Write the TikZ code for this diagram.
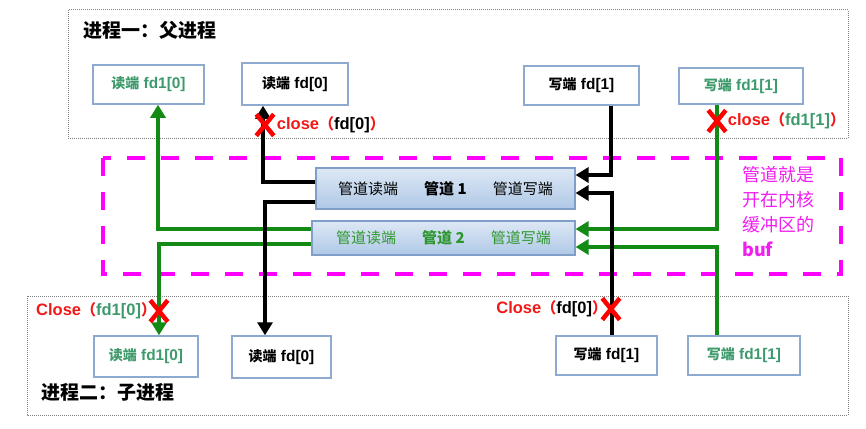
\documentclass[tikz,border=0pt]{standalone}
\usepackage{fontspec}
\setmainfont{Liberation Sans}[Scale=1.1]
\newfontfamily\cjk{Noto Sans CJK SC}
\usetikzlibrary{arrows.meta,positioning,shapes.misc}
\definecolor{kastenrand}{HTML}{8EAACF}
\definecolor{gruentext}{HTML}{3D9A6B}
\definecolor{gruenlinie}{HTML}{138A13}
\definecolor{rohrgruen}{HTML}{2E962E}
\definecolor{rohroben}{HTML}{DDE8F5}
\definecolor{rohrunten}{HTML}{AFC8E6}
\definecolor{rohrrand}{HTML}{7F9FC9}
\definecolor{rosa}{HTML}{F01EF0}
\definecolor{pink}{HTML}{FF00FF}
\definecolor{rot}{HTML}{F01818}
\tikzset{
	kasten/.style={draw=kastenrand, line width=1.5pt, inner sep=0pt, fill=white, font=\fontsize{14}{16}\selectfont\bfseries},
	rohr/.style={draw=rohrrand, line width=1.2pt, top color=rohroben, bottom color=rohrunten, inner sep=0pt, font=\fontsize{15}{17}\selectfont},
	prozess/.style={draw=gray, densely dotted, line width=1pt},
	puffer/.style={draw=pink, line width=4.5pt, dash pattern=on 18pt off 16pt},
	sw/.style={line width=4.5pt, -{Triangle[length=13pt,width=15pt]}},
	gr/.style={sw, color=gruenlinie},
	kreuz/.style={cross out, draw=red, line width=4.5pt, inner sep=0pt, minimum width=13pt, minimum height=17pt},
	zu/.style={text=rot, inner sep=0pt, font=\fontsize{15}{17}\selectfont\bfseries},
}
\begin{document}
\begin{tikzpicture}[x=1pt, y={(0pt,-1pt)}]
\useasboundingbox (0,0) rectangle (866,428);
% Prozess eins: Vater
\begin{scope}[local bounding box=VP]
	\draw[prozess] (68,10) rectangle (848,138);
	\node[anchor=west, font=\fontsize{19}{21}\selectfont\bfseries\cjk] (TitelP) at (80,30) {进程一：父进程};
	\node[kasten, minimum width=111pt, minimum height=39pt, text=gruentext] (PR1) at (148.5,84.5) {{\cjk 读端} fd1[0]};
	\node[kasten, minimum width=106pt, minimum height=42pt] (PR) at (295,84) {{\cjk 读端} fd[0]};
	\node[kasten, minimum width=115pt, minimum height=39pt] (PW) at (581.5,85.5) {{\cjk 写端} fd[1]};
	\node[kasten, minimum width=124pt, minimum height=36pt, text=gruentext] (PW1) at (741,86) {{\cjk 写端} fd1[1]};
\end{scope}

% Prozess zwei: Kind
\begin{scope}[local bounding box=KP]
	\draw[prozess] (27,296) rectangle (848,415);
	\node[anchor=west, font=\fontsize{19}{21}\selectfont\bfseries\cjk] (TitelK) at (38,392) {进程二：子进程};
	\node[kasten, minimum width=104pt, minimum height=41pt, text=gruentext] (KR1) at (146,356.5) {{\cjk 读端} fd1[0]};
	\node[kasten, minimum width=99pt, minimum height=42pt] (KR) at (281.5,357) {{\cjk 读端} fd[0]};
	\node[kasten, minimum width=101pt, minimum height=39pt] (KW) at (606.5,355.5) {{\cjk 写端} fd[1]};
	\node[kasten, minimum width=112pt, minimum height=39pt, text=gruentext] (KW1) at (744,355.5) {{\cjk 写端} fd1[1]};
\end{scope}

% Kernpuffer mit zwei Rohren
\draw[puffer] (103,158) rectangle (841,274);
\node[rohr, minimum width=259pt, minimum height=41pt] (Rohr1) at (445.5,188.5) {\cjk 管道读端\hspace{26pt}\textbf{管道 1}\hspace{26pt}管道写端};
\node[rohr, minimum width=263pt, minimum height=34pt, text=rohrgruen] (Rohr2) at (443.5,238) {\cjk 管道读端\hspace{26pt}\textbf{管道 2}\hspace{26pt}管道写端};
\node[anchor=north west, align=left, inner sep=0pt, text=rosa, font=\fontsize{18}{25}\selectfont\cjk] (Puf) at (742,166) {管道就是\\开在内核\\缓冲区的\\\textbf{buf}};

% Verbindungen Rohr 2
\draw[gr] ([yshift=9pt]Rohr2.west) -| ([xshift=9.5pt]PR1.south);
\draw[gr] ([yshift=-6pt]Rohr2.west) -| ([xshift=13pt]KR1.north);
\draw[gr] ([xshift=-24pt]PW1.south) |- ([yshift=9pt]Rohr2.east);
\draw[gr] ([xshift=-27pt]KW1.north) |- ([yshift=-9pt]Rohr2.east);
% Verbindungen Rohr 1
\draw[sw] ([yshift=6.5pt]Rohr1.west) -| ([xshift=-32pt]PR.south);
\draw[sw] ([yshift=-13.5pt]Rohr1.west) -| ([xshift=-16.5pt]KR.north);
\draw[sw] ([xshift=29.5pt]PW.south) |- ([yshift=13.5pt]Rohr1.east);
\draw[sw] ([xshift=5.5pt]KW.north) |- ([yshift=-4.5pt]Rohr1.east);

% geschlossene Enden
\node[kreuz] (X1) at (265,125) {};
\node[zu, right=3pt of X1] (Z1) {close{\cjk （}\textcolor{black}{fd[0]}{\cjk ）}};
\node[kreuz] (X2) at (717,121) {};
\node[zu, right=2pt of X2] (Z2) {close{\cjk （}\textcolor{gruentext}{fd1[1]}{\cjk ）}};
\node[kreuz] (X3) at (159,311) {};
\node[zu, left=-6pt of X3] (Z3) {Close{\cjk （}\textcolor{gruentext}{fd1[0]}{\cjk ）}};
\node[kreuz] (X4) at (611,309) {};
\node[zu, left=-5pt of X4] (Z4) {Close{\cjk （}\textcolor{black}{fd[0]}{\cjk ）}};
\end{tikzpicture}
\end{document}
